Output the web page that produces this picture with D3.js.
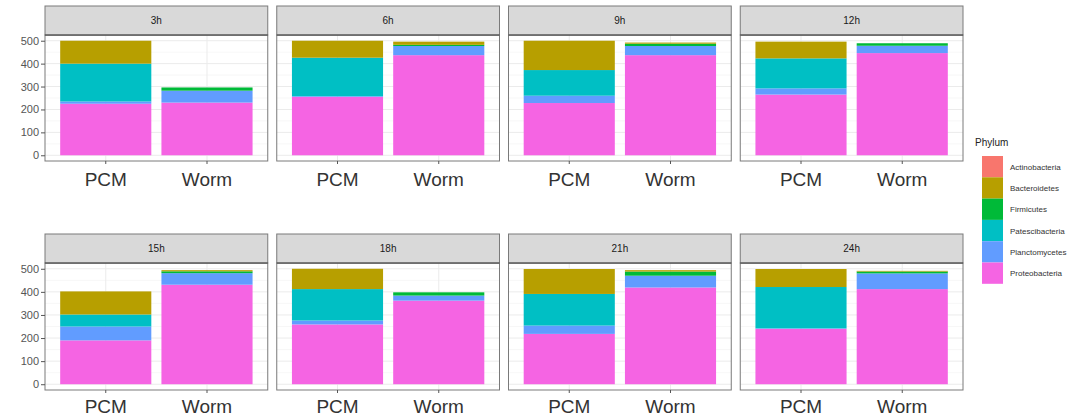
<!DOCTYPE html>
<html><head><meta charset="utf-8">
<script src="https://cdn.jsdelivr.net/npm/d3@7"></script>
<style>body{margin:0;background:#fff;} svg{display:block;font-family:"Liberation Sans",Arial,sans-serif;}</style>
</head><body><svg id="c" width="1089" height="419"></svg>
<script>
const timepoints = ["3h","6h","9h","12h","15h","18h","21h","24h"];
const samples = ["PCM","Worm"];
const phyla = ["Actinobacteria","Bacteroidetes","Firmicutes","Patescibacteria","Planctomycetes","Proteobacteria"];
const phylumColors = ["#F8766D","#B79F00","#00BA38","#00BFC4","#619CFF","#F564E3"];
const yTicks = [0,100,200,300,400,500];
// values ordered: 3h PCM, 3h Worm, 6h PCM, 6h Worm, ...
const actinobacteria  = [0,0, 0,0, 0,0, 0,0, 0,0, 0,0, 0,0, 0,0];
const bacteroidetes   = [100,0, 74,14, 128,5, 73,0, 100,5, 88,0, 108,6, 78,3];
const firmicutes      = [0,14, 0,5, 0,10, 0,11, 0,8, 0,14, 0,18, 0,8];
const patescibacteria = [165,0, 168,0, 112,0, 131,0, 52,0, 136,0, 137,0, 179,0];
const planctomycetes  = [10,52, 3,40, 32,40, 27,32, 60,50, 17,22, 36,51, 2,68];
const proteobacteria  = [225,230, 255,437, 228,437, 265,446, 190,431, 259,362, 218,419, 240,412];

const seriesByPhylum = {
  Actinobacteria: actinobacteria, Bacteroidetes: bacteroidetes, Firmicutes: firmicutes,
  Patescibacteria: patescibacteria, Planctomycetes: planctomycetes, Proteobacteria: proteobacteria
};
const rows = [];
timepoints.forEach((t,ti)=>samples.forEach((s,si)=>{
  const r = {time:t, sample:s};
  phyla.forEach(p=>r[p]=seriesByPhylum[p][ti*2+si]);
  rows.push(r);
}));
const color = d3.scaleOrdinal().domain(phyla).range(phylumColors);
const stackKeys = phyla.slice().reverse(); // Proteobacteria at bottom

const svg = d3.select("#c");
const panelLeft0 = 45, panelRight = 963, gap = 9;
const panelW = (panelRight - panelLeft0 - 3*gap)/4;
const rowsGeom = [
  {stripTop:6, panelTop:35, panelBottom:161, labelY:186},
  {stripTop:234, panelTop:263, panelBottom:390, labelY:413}
];

timepoints.forEach((t,i)=>{
  const g = rowsGeom[Math.floor(i/4)];
  const col = i%4;
  const x0 = panelLeft0 + col*(panelW+gap);
  const x = d3.scaleBand().domain(samples).range([x0, x0+panelW]).paddingInner(0.1).paddingOuter(0.15);
  const y = d3.scaleLinear().domain([-25,525]).range([g.panelBottom, g.panelTop]);
  const pg = svg.append("g");
  // background & grid
  pg.append("rect").attr("x",x0).attr("y",g.panelTop).attr("width",panelW).attr("height",g.panelBottom-g.panelTop).attr("fill","#fff");
  [50,150,250,350,450].forEach(v=>pg.append("line").attr("x1",x0).attr("x2",x0+panelW).attr("y1",y(v)).attr("y2",y(v)).attr("stroke","#F2F2F2").attr("stroke-width",0.6));
  yTicks.forEach(v=>pg.append("line").attr("x1",x0).attr("x2",x0+panelW).attr("y1",y(v)).attr("y2",y(v)).attr("stroke","#EBEBEB").attr("stroke-width",1));
  samples.forEach(s=>pg.append("line").attr("x1",x(s)+x.bandwidth()/2).attr("x2",x(s)+x.bandwidth()/2).attr("y1",g.panelTop).attr("y2",g.panelBottom).attr("stroke","#EBEBEB"));
  // bars
  const data = rows.filter(r=>r.time===t);
  const stacked = d3.stack().keys(stackKeys)(data);
  stacked.forEach(layer=>{
    pg.selectAll(null).data(layer).enter().append("rect")
      .attr("x",d=>x(d.data.sample)).attr("width",x.bandwidth())
      .attr("y",d=>y(d[1])).attr("height",d=>Math.max(0,y(d[0])-y(d[1])))
      .attr("fill",color(layer.key));
  });
  // border
  pg.append("rect").attr("x",x0).attr("y",g.panelTop).attr("width",panelW).attr("height",g.panelBottom-g.panelTop).attr("fill","none").attr("stroke","#7a7a7a").attr("stroke-width",1);
  // strip
  pg.append("rect").attr("x",x0).attr("y",g.stripTop).attr("width",panelW).attr("height",g.panelTop-g.stripTop).attr("fill","#D9D9D9").attr("stroke","#7a7a7a").attr("stroke-width",1);
  pg.append("line").attr("x1",x0).attr("x2",x0+panelW).attr("y1",g.panelTop).attr("y2",g.panelTop).attr("stroke","#444").attr("stroke-width",1.2);
  pg.append("text").attr("x",x0+panelW/2).attr("y",(g.stripTop+g.panelTop)/2+3.5).attr("text-anchor","middle").attr("font-size",10).attr("fill","#1A1A1A").text(t);
  // x axis
  const xa = pg.append("g").attr("transform",`translate(0,${g.panelBottom})`).call(d3.axisBottom(x).tickSize(3).tickSizeOuter(0));
  xa.select(".domain").remove();
  xa.selectAll("line").attr("stroke","#555");
  xa.selectAll("text").attr("font-size",19).attr("fill","#333").attr("dy",null).attr("y",g.labelY-g.panelBottom).attr("font-family","'Liberation Sans',Arial,sans-serif");
  // y axis
  if(col===0){
    const ya = pg.append("g").attr("transform",`translate(${x0},0)`).call(d3.axisLeft(y).tickValues(yTicks).tickSize(4).tickSizeOuter(0));
    ya.select(".domain").remove();
    ya.selectAll("line").attr("stroke","#555");
    ya.selectAll("text").attr("font-size",11).attr("fill","#555").attr("x",-6).attr("font-family","'Liberation Sans',Arial,sans-serif");
  }
});

// legend
const lg = svg.append("g");
lg.append("text").attr("x",975).attr("y",146).attr("font-size",10).attr("fill","#222").text("Phylum");
const keyH = 21.3;
phyla.forEach((p,i)=>{
  const ky = 156 + i*keyH;
  lg.append("rect").attr("x",982).attr("y",ky).attr("width",21).attr("height",keyH).attr("fill",color(p));
  lg.append("text").attr("x",1010).attr("y",ky+keyH/2+3).attr("font-size",8).attr("fill","#333").text(p);
});
</script></body></html>
